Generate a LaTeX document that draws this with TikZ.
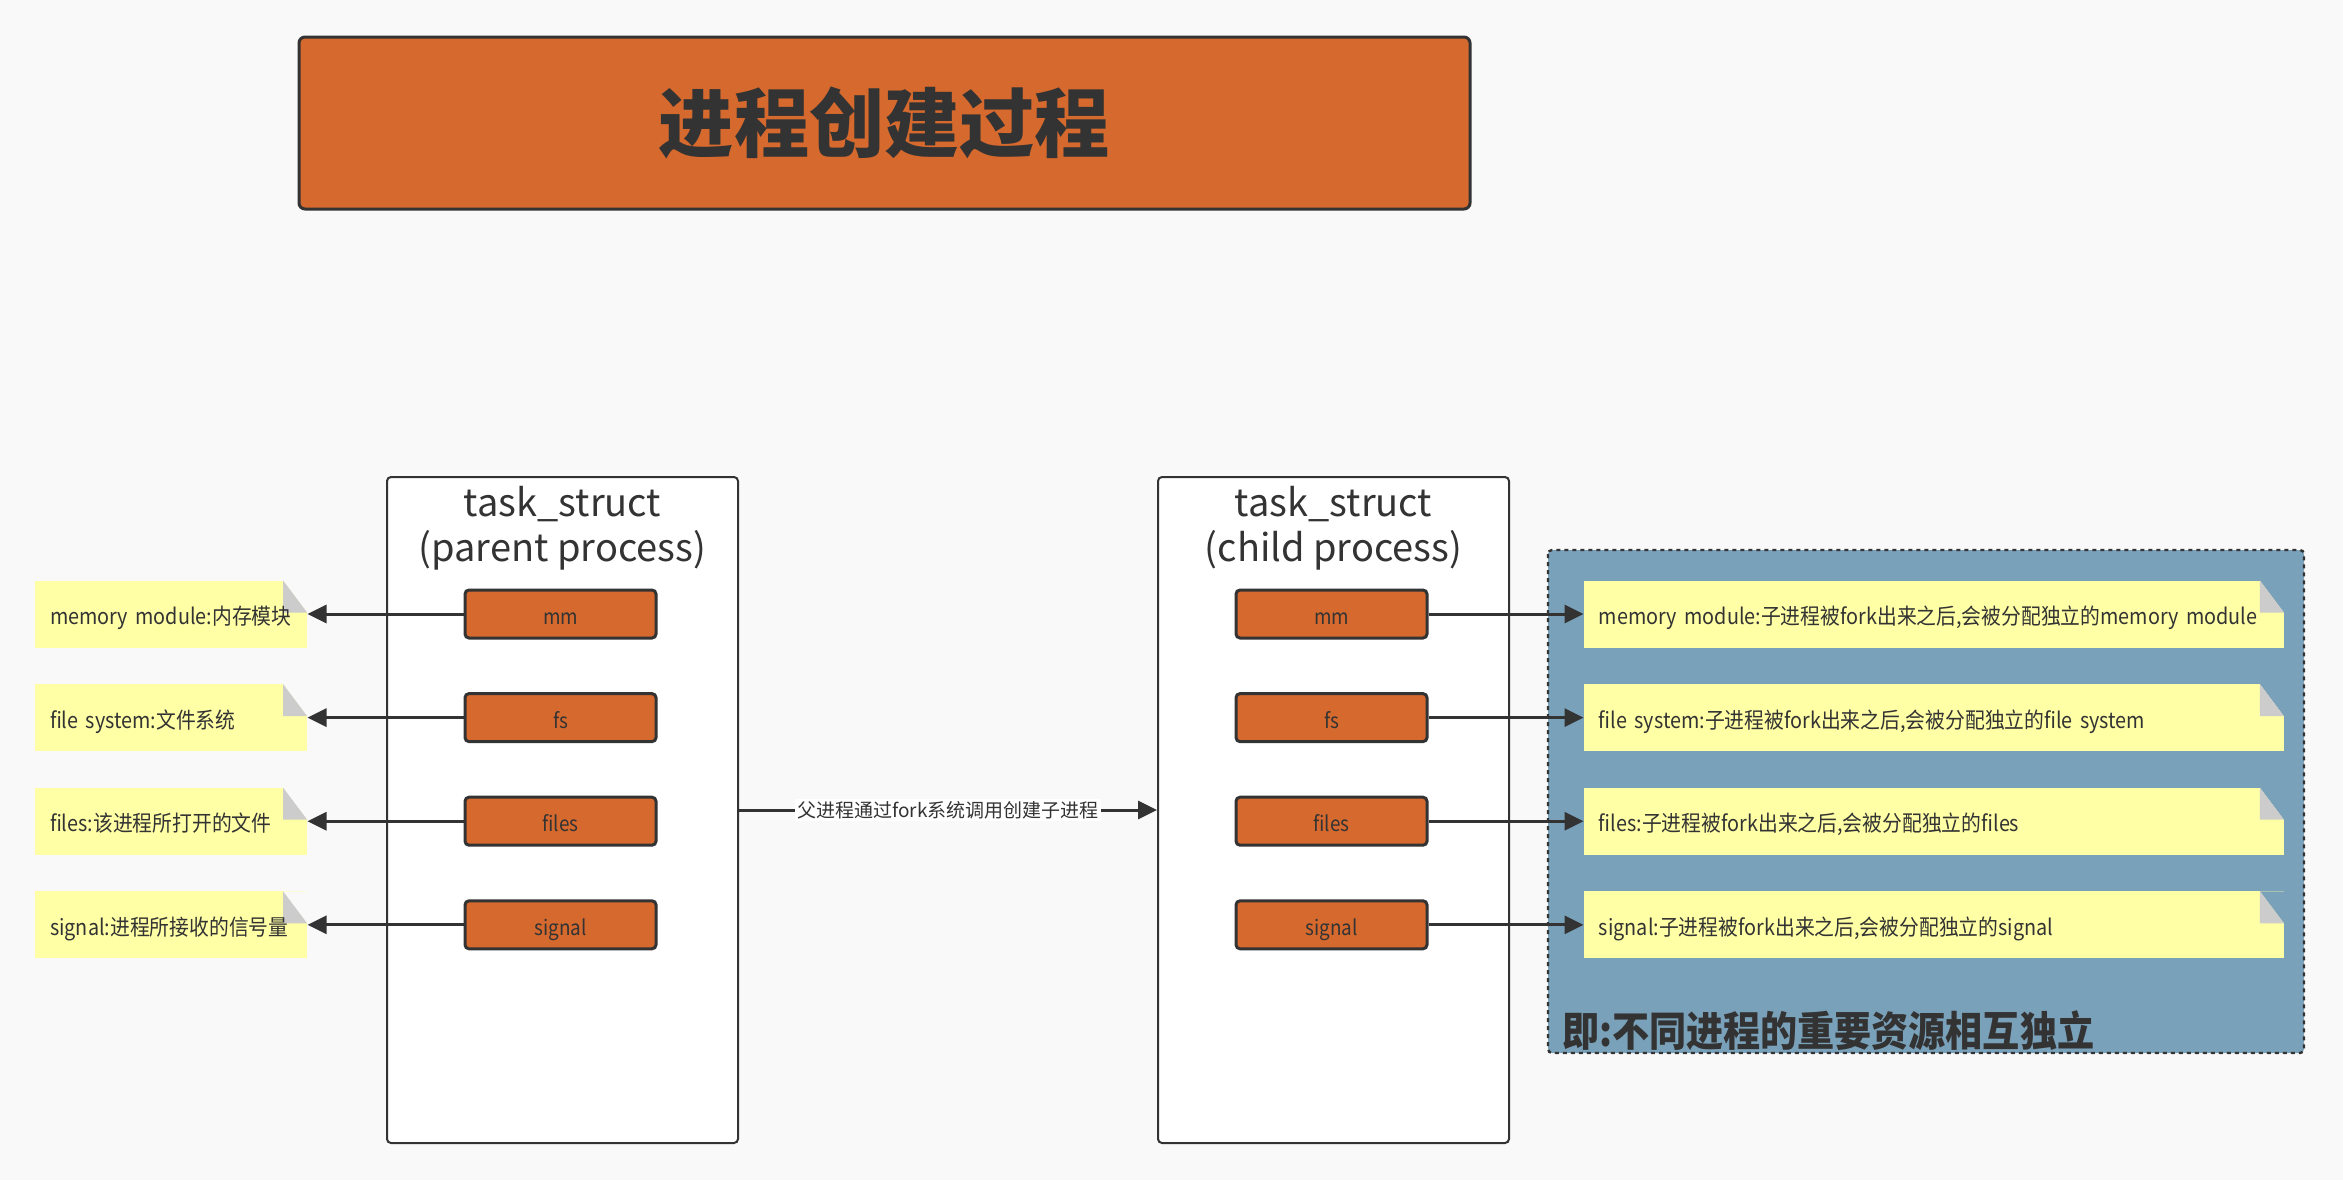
\documentclass[tikz,border=0pt]{standalone}
\usepackage{fontspec}
\setmainfont{Noto Sans CJK SC}
\newfontfamily\notefont{Noto Sans CJK SC}[FakeStretch=0.9]
\usetikzlibrary{positioning,arrows.meta}
\definecolor{bgcolor}{HTML}{F9F9F9}
\definecolor{linecolor}{HTML}{333333}
\definecolor{boxorange}{HTML}{D5692E}
\definecolor{notecolor}{HTML}{FFFFA6}
\definecolor{foldcolor}{HTML}{CCCCCC}
\definecolor{regionblue}{HTML}{7AA1BA}

\tikzset{
  field/.style={draw=linecolor, line width=1.5pt, fill=boxorange, rounded corners=2pt,
    minimum width=95.5pt, minimum height=24pt, inner sep=0pt, text=linecolor,
    text height=1.1em, text depth=0.04em, font=\notefont\fontsize{10.5}{12}\selectfont},
  task/.style={draw=linecolor, line width=1pt, fill=white, rounded corners=2pt,
    minimum width=175.5pt, minimum height=333pt},
  note/.style={fill=notecolor, minimum height=33.5pt, inner xsep=7.5pt, inner ysep=0pt,
    text=linecolor, align=left, text height=1.1em, text depth=0.04em,
    font=\notefont\fontsize{11}{13}\selectfont,
    path picture={
      \fill[#1] ([xshift=-12pt]path picture bounding box.north east) -- (path picture bounding box.north east)
        -- ([yshift=-16pt]path picture bounding box.north east) -- cycle;
      \fill[foldcolor] ([xshift=-12pt]path picture bounding box.north east)
        -- ([xshift=-12pt,yshift=-16pt]path picture bounding box.north east)
        -- ([yshift=-16pt]path picture bounding box.north east) -- cycle;}},
  leftnote/.style={note=bgcolor, text width=121pt},
  rightnote/.style={note=regionblue, text width=335pt},
  link/.style={draw=linecolor, line width=1.5pt, -{Triangle[length=9.5pt,width=9pt]}}
}

\begin{document}
\begin{tikzpicture}[x=0.5pt,y=-0.5pt]

	\fill[bgcolor] (0,0) rectangle (2343,1180);
	\useasboundingbox (0,0) rectangle (2343,1180);

	\node[draw=linecolor, line width=1.5pt, fill=boxorange, rounded corners=3pt, minimum width=585.5pt, minimum height=86pt,
		text=linecolor, font=\fontsize{37.6}{40}\selectfont\bfseries] (title) at (884.5,123) {进程创建过程};

	\fill[regionblue, draw=linecolor, line width=1.2pt, dash pattern=on 2pt off 2pt, rounded corners=2pt] (1548,550) rectangle (2304,1053);
	\node[anchor=west, text=linecolor, font=\notefont\fontsize{20.6}{22}\selectfont\bfseries] (summary) at (1555,1031) {即:不同进程的重要资源相互独立};

	\node[task] (parent) at (562.5,810) {};
	\node[task] (child) at (1333.5,810) {};
	\node[align=center, text=linecolor, font=\fontsize{19}{22.5}\selectfont] (parenthead) at (562.5,528) {task\_struct\\(parent process)};
	\node[align=center, text=linecolor, font=\fontsize{19}{22.5}\selectfont] (childhead) at (1333.5,528) {task\_struct\\(child process)};

	\node[field] (pmm) at (560.5,614) {mm};
	\node[field] (pfs) [below = 26.3pt of pmm] {fs};
	\node[field] (pfiles) [below = 26.3pt of pfs] {files};
	\node[field] (psignal) [below = 26.3pt of pfiles] {signal};

	\node[field] (cmm) [right = 288.5pt of pmm] {mm};
	\node[field] (cfs) [right = 288.5pt of pfs] {fs};
	\node[field] (cfiles) [right = 288.5pt of pfiles] {files};
	\node[field] (csignal) [right = 288.5pt of psignal] {signal};

	\node[leftnote] (nmm) [left = 78pt of pmm] {memory module:内存模块};
	\node[leftnote] (nfs) [left = 78pt of pfs] {file system:文件系统};
	\node[leftnote] (nfiles) [left = 78pt of pfiles] {files:该进程所打开的文件};
	\node[leftnote] (nsignal) [left = 78pt of psignal] {signal:进程所接收的信号量};

	\node[rightnote] (rmm) [right = 77.5pt of cmm] {memory module:子进程被fork出来之后,会被分配独立的memory module};
	\node[rightnote] (rfs) [right = 77.5pt of cfs] {file system:子进程被fork出来之后,会被分配独立的file system};
	\node[rightnote] (rfiles) [right = 77.5pt of cfiles] {files:子进程被fork出来之后,会被分配独立的files};
	\node[rightnote] (rsignal) [right = 77.5pt of csignal] {signal:子进程被fork出来之后,会被分配独立的signal};

	\path[link] (pmm) -- (nmm);
	\path[link] (pfs) -- (nfs);
	\path[link] (pfiles) -- (nfiles);
	\path[link] (psignal) -- (nsignal);

	\path[link] (cmm) -- (rmm);
	\path[link] (cfs) -- (rfs);
	\path[link] (cfiles) -- (rfiles);
	\path[link] (csignal) -- (rsignal);

	\path[link] (parent) -- node[fill=white, inner sep=1pt, text=linecolor, font=\fontsize{9.5}{11}\selectfont] {父进程通过fork系统调用创建子进程} (child);

\end{tikzpicture}
\end{document}
